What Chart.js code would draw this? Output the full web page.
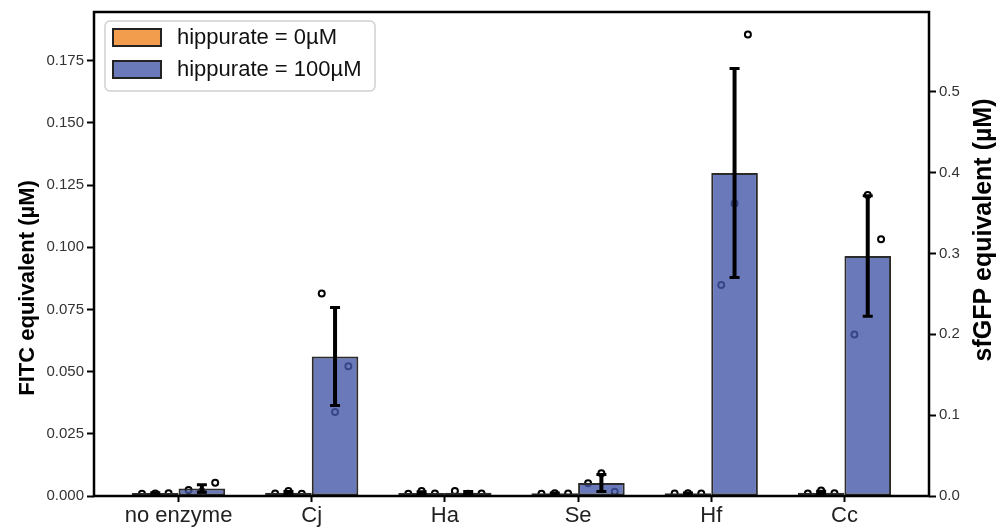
<!DOCTYPE html>
<html>
<head>
<meta charset="utf-8">
<script src="https://cdn.jsdelivr.net/npm/chart.js@4.4.1/dist/chart.umd.min.js"></script>
<style>
  html, body { margin: 0; padding: 0; background: #fff; }
  #wrap { width: 1002px; height: 530px; position: relative; }
</style>
</head>
<body>
<div id="wrap"><canvas id="chart"></canvas></div>
<script>
const categories = ["no enzyme", "Cj", "Ha", "Se", "Hf", "Cc"];
const seriesLabels = ["hippurate = 0\u00b5M", "hippurate = 100\u00b5M"];

// bar heights and error bar half-lengths (FITC equivalent, uM)
const mean0 = [0.0012, 0.0013, 0.0012, 0.0011, 0.0011, 0.0013];
const err0 = [0.0001, 0.0005, 0.0005, 0.0001, 0.0001, 0.0006];
const mean100 = [0.0030, 0.0561, 0.0013, 0.0052, 0.1299, 0.0965];
const err100 = [0.0015, 0.0197, 0.0005, 0.0034, 0.0420, 0.0242];

// replicate points, left / middle / right inside each bar
const reps0 = [
  [0.0009, 0.0010, 0.0011],
  [0.0010, 0.0020, 0.0009],
  [0.0009, 0.0020, 0.0010],
  [0.0009, 0.0011, 0.0010],
  [0.0010, 0.0011, 0.0010],
  [0.0010, 0.0022, 0.0011]
];
const reps100 = [
  [0.0024, 0.0017, 0.0053],
  [0.0814, 0.0338, 0.0522],
  [0.0020, 0.0009, 0.0010],
  [0.0051, 0.0091, 0.0017],
  [0.0848, 0.1176, 0.1856],
  [0.0649, 0.1210, 0.1032]
];

const fitcTicks = [0, 0.025, 0.05, 0.075, 0.1, 0.125, 0.15, 0.175];
const sfgfpTicks = [0, 0.1, 0.2, 0.3, 0.4, 0.5];

const FONT = "'Liberation Sans', Arial, sans-serif";
const BAR_OFFSET = 0.175;
const JITTER = [-0.1, 0, 0.1];
const COLORS = ["rgba(238,136,38,0.82)", "rgba(69,88,168,0.8)"];

function replicatePoints(reps, side) {
  const pts = [];
  reps.forEach((row, i) => {
    row.forEach((v, k) => pts.push({ x: i + side * BAR_OFFSET + JITTER[k], y: v }));
  });
  return pts;
}

const errorBars = {
  id: "errorBars",
  afterDatasetsDraw(chart) {
    const ctx = chart.ctx;
    const y = chart.scales.y;
    chart.data.datasets.forEach((ds, di) => {
      if (!ds.errors) return;
      chart.getDatasetMeta(di).data.forEach((bar, i) => {
        const top = y.getPixelForValue(ds.data[i].y + ds.errors[i]);
        const bottom = y.getPixelForValue(ds.data[i].y - ds.errors[i]);
        ctx.save();
        ctx.strokeStyle = "#000";
        ctx.lineWidth = 4;
        ctx.beginPath();
        ctx.moveTo(bar.x, top);
        ctx.lineTo(bar.x, bottom);
        ctx.stroke();
        ctx.lineWidth = 3;
        ctx.beginPath();
        ctx.moveTo(bar.x - 5, top);
        ctx.lineTo(bar.x + 5, top);
        ctx.moveTo(bar.x - 5, bottom);
        ctx.lineTo(bar.x + 5, bottom);
        ctx.stroke();
        ctx.restore();
      });
    });
  }
};

function rotatedTitle(ctx, text, x, y, size) {
  ctx.save();
  ctx.translate(x, y);
  ctx.rotate(-Math.PI / 2);
  ctx.textAlign = "center";
  ctx.textBaseline = "middle";
  ctx.font = "bold " + size + "px " + FONT;
  ctx.fillStyle = "#000";
  ctx.fillText(text, 0, 0);
  ctx.restore();
}

const frameAndLegend = {
  id: "frameAndLegend",
  afterDraw(chart) {
    const ctx = chart.ctx;
    const a = chart.chartArea;
    ctx.save();
    ctx.strokeStyle = "#000";
    ctx.lineWidth = 2.5;
    ctx.strokeRect(a.left, a.top, a.right - a.left, a.bottom - a.top);

    // legend box
    ctx.beginPath();
    ctx.roundRect(105, 21, 270, 70, 5);
    ctx.fillStyle = "rgba(255,255,255,0.85)";
    ctx.fill();
    ctx.strokeStyle = "#d0d0d0";
    ctx.lineWidth = 1.5;
    ctx.stroke();
    ctx.font = "22px " + FONT;
    ctx.textBaseline = "middle";
    chart.data.datasets.slice(0, 2).forEach((ds, i) => {
      const sy = 29 + i * 32;
      ctx.fillStyle = "#fff";
      ctx.fillRect(113, sy, 48, 17);
      ctx.fillStyle = ds.backgroundColor;
      ctx.fillRect(113, sy, 48, 17);
      ctx.strokeStyle = "#222";
      ctx.lineWidth = 2;
      ctx.strokeRect(113, sy, 48, 17);
      ctx.fillStyle = "#111";
      ctx.fillText(ds.label, 177, sy + 9);
    });
    ctx.restore();

    rotatedTitle(ctx, "FITC equivalent (\u00b5M)", 28, 288, 22);
    rotatedTitle(ctx, "sfGFP equivalent (\u00b5M)", 984, 230, 25);
  }
};

const tickFont = { family: FONT, size: 15 };

new Chart(document.getElementById("chart"), {
  type: "bar",
  data: {
    datasets: [
      {
        label: seriesLabels[0],
        data: mean0.map((v, i) => ({ x: i, y: v })),
        errors: err0,
        backgroundColor: COLORS[0],
        borderColor: "#2b2b2b",
        borderWidth: 2,
        borderSkipped: false,
        order: 1
      },
      {
        label: seriesLabels[1],
        data: mean100.map((v, i) => ({ x: i, y: v })),
        errors: err100,
        backgroundColor: COLORS[1],
        borderColor: "#2b2b2b",
        borderWidth: 2,
        borderSkipped: false,
        order: 1
      },
      {
        type: "scatter",
        label: "reps0",
        data: replicatePoints(reps0, -1),
        pointRadius: 3,
        borderWidth: 2,
        borderColor: "#000",
        backgroundColor: "#fff",
        order: 5
      },
      {
        type: "scatter",
        label: "reps100",
        data: replicatePoints(reps100, 1),
        pointRadius: 3,
        borderWidth: 2,
        borderColor: "#000",
        backgroundColor: "#fff",
        order: 5
      }
    ]
  },
  options: {
    responsive: true,
    maintainAspectRatio: false,
    animation: false,
    layout: { padding: { top: 10, left: 0, right: 0, bottom: 0 } },
    datasets: { bar: { categoryPercentage: 0.7, barPercentage: 1.0 } },
    plugins: { legend: { display: false }, tooltip: { enabled: false } },
    scales: {
      x: {
        type: "linear",
        offset: false,
        min: -0.635,
        max: 5.635,
        afterBuildTicks: axis => { axis.ticks = categories.map((c, i) => ({ value: i })); },
        afterFit: axis => { axis.height = 34; },
        ticks: {
          callback: v => categories[v],
          font: { family: FONT, size: 22 },
          color: "#222",
          padding: 1,
          maxRotation: 0
        },
        grid: { offset: false, drawOnChartArea: false, tickLength: 6, tickColor: "#000", tickWidth: 2 },
        border: { display: false }
      },
      y: {
        position: "left",
        min: 0,
        max: 0.175 * 486 / 437,
        afterBuildTicks: axis => { axis.ticks = fitcTicks.map(v => ({ value: v })); },
        afterFit: axis => { axis.width = 94; },
        ticks: {
          callback: v => v.toFixed(3),
          font: tickFont,
          color: "#333",
          padding: 3
        },
        grid: { drawOnChartArea: false, tickLength: 7, tickColor: "#000", tickWidth: 2 },
        border: { display: false }
      },
      y2: {
        position: "right",
        min: 0,
        max: 0.5 * 486 / 406,
        afterBuildTicks: axis => { axis.ticks = sfgfpTicks.map(v => ({ value: v })); },
        afterFit: axis => { axis.width = 73; },
        ticks: {
          callback: v => v.toFixed(1),
          font: tickFont,
          color: "#333",
          padding: 3
        },
        grid: { drawOnChartArea: false, tickLength: 7, tickColor: "#000", tickWidth: 2 },
        border: { display: false }
      }
    }
  },
  plugins: [errorBars, frameAndLegend]
});
</script>
</body>
</html>
